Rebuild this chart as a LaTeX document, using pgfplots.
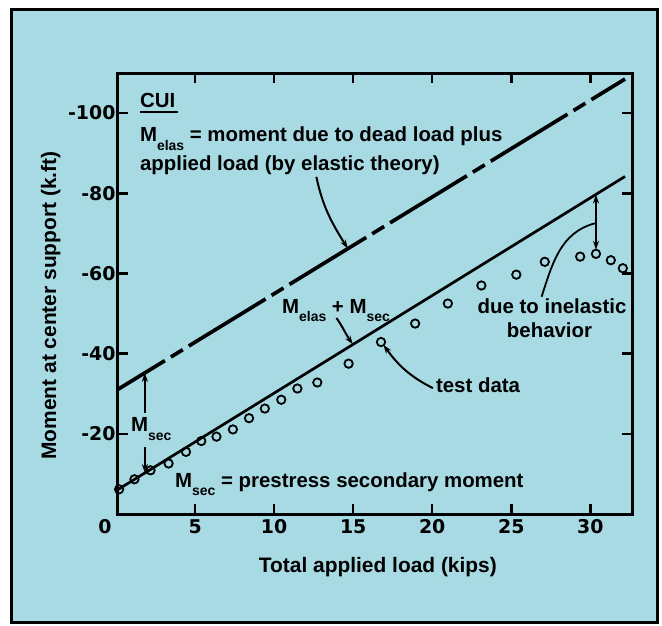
\documentclass[border=0pt]{standalone}
\usepackage{pgfplots}
\pgfplotsset{compat=1.18}
\usepackage{fontspec}
\setmainfont{Liberation Sans}
\newfontfamily\tickfont{DejaVu Sans}
\usetikzlibrary{arrows.meta}
\definecolor{bgblue}{RGB}{168,218,228}
\newcommand{\subs}[1]{\raisebox{-8.5bp}{\fontsize{14}{14}\selectfont #1}}
\begin{document}
\begin{tikzpicture}[
  ann/.style={font=\bfseries\fontsize{20.5}{22}\selectfont, inner sep=0pt},
  lab/.style={font=\bfseries\fontsize{21}{21}\selectfont, inner sep=0pt},
  arr/.style={line width=2bp, -{Stealth[length=9bp,width=6bp]}},
]
\useasboundingbox (-118bp,-112bp) rectangle (544bp,514bp);
\fill[white] (-118bp,-112bp) rectangle (544bp,514bp);
\filldraw[fill=bgblue, draw=black, line width=3bp] (-106.5bp,-108.5bp) rectangle (539.5bp,504bp);
\begin{axis}[
  at={(0,0)}, anchor=south west,
  scale only axis, width=514bp, height=441bp,
  xmin=0.12, xmax=32.64, ymin=-110, ymax=0, y dir=reverse,
  clip=false,
  axis line style={line width=3bp},
  tick align=inside, xtick pos=both, ytick pos=both,
  xticklabel pos=bottom, yticklabel pos=left,
  major tick length=10bp,
  every tick/.style={black, line width=2.5bp},
  xtick={5,10,15,20,25,30},
  xticklabels={5,10,15,20,25,30},
  ytick={-100,-80,-60,-40,-20},
  yticklabels={-100,-80,-60,-40,-20},
  extra x ticks={0.12}, extra x tick labels={0},
  extra x tick style={major tick length=0pt, xticklabel style={xshift=-13bp}},
  tick label style={font=\tickfont\bfseries\fontsize{19}{20}\selectfont},
  xticklabel style={yshift=-2bp},
  yticklabel style={xshift=1bp},
]
% M_elas + M_sec (solid)
\addplot[black, line width=2.7bp] coordinates {(0.12,-6.1) (32.2,-84.2)};
% M_elas (dashed)
\addplot[black, line width=3.7bp, line cap=butt,
  dash pattern=on 90bp off 7bp on 14bp off 7bp, dash phase=35bp]
  coordinates {(0.12,-31.1) (32.2,-108.5)};
% test data
\addplot[only marks, mark=o, mark size=4.2bp, black,
  mark options={line width=1.8bp}] table {
x y
0.19 -6.16
1.16 -8.66
2.18 -10.9
3.32 -12.6
4.42 -15.5
5.39 -18.2
6.35 -19.3
7.39 -21.1
8.41 -23.9
9.41 -26.3
10.45 -28.5
11.47 -31.3
12.73 -32.8
14.71 -37.5
16.76 -42.9
18.92 -47.5
20.99 -52.5
23.11 -57.0
25.32 -59.7
27.12 -62.9
29.36 -64.2
30.36 -64.9
31.30 -63.3
32.06 -61.3
};
% annotations
\node[ann, anchor=base west] at (axis cs:1.5,-101.5) {\rlap{\rule[-5.7bp]{38bp}{2bp}}CUI};
\node[ann, anchor=base west] at (axis cs:1.5,-92.9) {M\subs{elas} = moment due to dead load plus};
\node[ann, anchor=base west] at (axis cs:1.5,-85.8) {applied load (by elastic theory)};
\node[ann, anchor=base west] at (axis cs:10.49,-50.1) {M\subs{elas} + M\subs{sec}};
\node[ann, anchor=base west] at (axis cs:0.93,-20.5) {M\subs{sec}};
\node[ann, anchor=base west] at (axis cs:3.72,-6.7) {M\subs{sec} = prestress secondary moment};
\node[ann, anchor=base west] at (axis cs:20.23,-30.2) {test data};
\node[ann, anchor=base] at (axis cs:27.58,-49.9) {due to inelastic};
\node[ann, anchor=base] at (axis cs:27.42,-44.1) {behavior};
% axis labels
\node[lab, anchor=base] at (axis cs:16.56,14.7) {Total applied load (kips)};
\node[lab, rotate=90, anchor=center] at (axis cs:-4.13,-52.0) {Moment at center support (k.ft)};
% arrows
\draw[arr] (axis cs:12.67,-84.1) to[out=-78,in=122] (axis cs:14.66,-66.2);
\draw[arr] (axis cs:13.94,-48.9) to[out=-55,in=125] (axis cs:14.98,-42.3);
\draw[arr] (axis cs:1.82,-25.2) -- (axis cs:1.82,-35.2);
\draw[arr] (axis cs:1.82,-16.7) -- (axis cs:1.82,-10.24);
\draw[arr] (axis cs:20.04,-31.4) to[out=153,in=-54] (axis cs:16.91,-42.2);
\draw[line width=1.8bp] (axis cs:26.92,-54.2) to[out=72,in=-165] (axis cs:30.29,-72.5);
\draw[line width=2bp, {Stealth[length=9bp,width=6bp]}-{Stealth[length=9bp,width=6bp]}] (axis cs:30.36,-79.7) -- (axis cs:30.36,-65.9);
\end{axis}
\end{tikzpicture}
\end{document}
